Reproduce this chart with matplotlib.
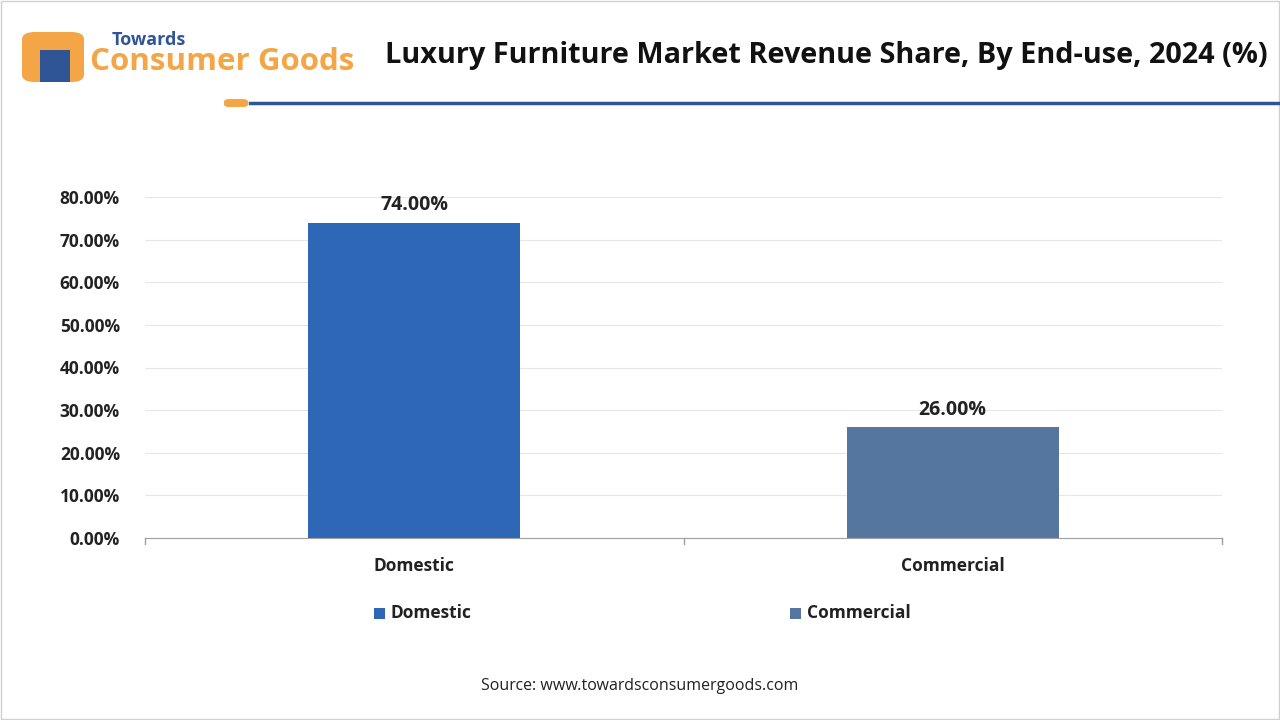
import matplotlib.pyplot as plt
from matplotlib.patches import Rectangle, FancyBboxPatch
from matplotlib.ticker import FuncFormatter

categories = ["Domestic", "Commercial"]
shares = [74.0, 26.0]
colors = ["#2E67B5", "#55769F"]
yticks = [0, 10, 20, 30, 40, 50, 60, 70, 80]

W, H = 1280, 720
fig = plt.figure(figsize=(12.8, 7.2), dpi=100)
plt.rcParams["font.family"] = "Open Sans"

def fx(px):
    return px / W

def fy(py):
    return 1 - py / H

# frame
fig.patches.append(Rectangle((0.001, 0.001), 0.998, 0.997, transform=fig.transFigure,
                             fill=False, edgecolor="#D0D0D0", lw=1))

# header
fig.text(fx(385), fy(55), "Luxury Furniture Market Revenue Share, By End-use, 2024 (%)",
         fontsize=20.8, fontweight="bold", va="center", ha="left", color="#111111")
fig.lines.append(plt.Line2D([fx(250), 1], [fy(103), fy(103)], transform=fig.transFigure,
                            color="#2F5597", lw=2.5))
fig.patches.append(FancyBboxPatch((fx(224), fy(107)), fx(24), 8 / H, transform=fig.transFigure,
                                  boxstyle="round,pad=0,rounding_size=0.004",
                                  facecolor="#F4A545", edgecolor="none"))
# logo
fig.patches.append(FancyBboxPatch((fx(22), fy(82)), fx(62), 50 / H, transform=fig.transFigure,
                                  boxstyle="round,pad=0,rounding_size=0.01",
                                  facecolor="#F4A545", edgecolor="none"))
fig.patches.append(Rectangle((fx(40), fy(82)), fx(30), 32 / H, transform=fig.transFigure,
                             facecolor="#2F5597", edgecolor="none"))
fig.text(fx(112), fy(40), "Towards", fontsize=13, fontweight="bold", color="#2F5597", va="center")
fig.text(fx(90), fy(62), "Consumer Goods", fontsize=22.5, fontweight="bold", color="#F4A545", va="center")

# chart
ax = fig.add_axes([fx(145), fy(538), fx(1222 - 145), (538 - 197) / H])
x = range(len(categories))
bars = ax.bar(x, shares, width=0.394, color=colors, label=categories)
for b, v in zip(bars, shares):
    ax.text(b.get_x() + b.get_width() / 2, v + 1.8, f"{v:.2f}%", ha="center", va="bottom",
            fontsize=14, fontweight="bold", color="#222222")
ax.set_xlim(-0.5, 1.5)
ax.set_ylim(0, 80)
ax.set_yticks(yticks)
ax.yaxis.set_major_formatter(FuncFormatter(lambda v, p: f"{v:.2f}%"))
ax.set_xticks(list(x))
ax.set_xticklabels(categories)
ax.tick_params(axis="y", length=0, labelsize=12.5, pad=18)
ax.tick_params(axis="x", length=0, labelsize=12.5, pad=14)
for lab in ax.get_xticklabels() + ax.get_yticklabels():
    lab.set_fontweight("bold")
    lab.set_color("#222222")
ax.grid(axis="y", color="#E6E6E6", lw=0.8)
ax.set_axisbelow(True)
for s in ["top", "right", "left"]:
    ax.spines[s].set_visible(False)
ax.spines["bottom"].set_color("#A0A0A0")
for xv in [-0.5, 0.5, 1.5]:
    ax.plot([xv, xv], [0, -1.5], color="#A0A0A0", lw=1, clip_on=False)

# legend
for px, name, c in zip([379, 795], categories, colors):
    fig.patches.append(Rectangle((fx(px - 5), fy(619)), 11 / W, 11 / H, transform=fig.transFigure,
                                 facecolor=c, edgecolor="none"))
    fig.text(fx(px + 12), fy(613), name, fontsize=12.5, fontweight="bold",
             color="#222222", va="center")

fig.text(0.5, fy(686), "Source: www.towardsconsumergoods.com", ha="center", va="center",
         fontsize=11.5, color="#222222")

fig.savefig("out.png", dpi=100)
